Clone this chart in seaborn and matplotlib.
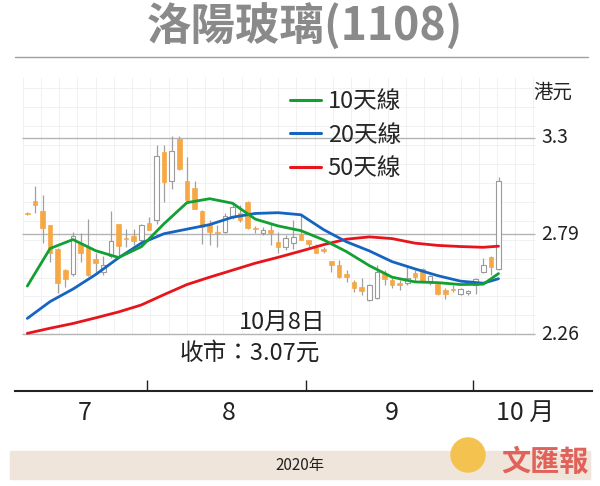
import seaborn as sns
import matplotlib.pyplot as plt
import numpy as np
import pandas as pd
from matplotlib.lines import Line2D
from matplotlib.patches import Rectangle, Ellipse

# daily candles, Jul - 8 Oct 2020 (HKD)
opens = [2.900, 2.964, 2.911, 2.837, 2.709, 2.600, 2.579, 2.744, 2.719, 2.657,
         2.590, 2.673, 2.842, 2.770, 2.779, 2.756, 2.849, 2.862, 3.222, 3.068,
         3.295, 3.072, 3.032, 2.911, 2.841, 2.802, 2.802, 2.884, 2.899, 2.960,
         2.823, 2.796, 2.814, 2.750, 2.722, 2.744, 2.789, 2.758, 2.717, 2.709,
         2.647, 2.626, 2.578, 2.538, 2.508, 2.441, 2.450, 2.582, 2.547, 2.529,
         2.532, 2.585, 2.605, 2.543, 2.524, 2.494, 2.497, 2.471, 2.476, 2.520,
         2.587, 2.670, 2.603]
highs = [2.905, 3.044, 2.995, 2.840, 2.715, 2.605, 2.802, 2.798, 2.872, 2.688,
         2.673, 2.911, 2.845, 2.817, 2.817, 2.844, 2.879, 3.263, 3.263, 3.307,
         3.310, 3.200, 3.073, 2.915, 2.863, 2.837, 2.902, 2.951, 2.943, 2.965,
         2.832, 2.830, 2.848, 2.802, 2.784, 2.867, 2.890, 2.761, 2.740, 2.722,
         2.650, 2.652, 2.600, 2.547, 2.556, 2.525, 2.626, 2.600, 2.556, 2.547,
         2.626, 2.600, 2.610, 2.572, 2.538, 2.503, 2.520, 2.503, 2.494, 2.556,
         2.661, 2.672, 3.092]
lows = [2.890, 2.902, 2.744, 2.643, 2.479, 2.510, 2.569, 2.643, 2.570, 2.582,
        2.573, 2.664, 2.670, 2.721, 2.730, 2.738, 2.810, 2.844, 2.958, 3.029,
        3.130, 2.953, 2.920, 2.740, 2.732, 2.722, 2.793, 2.872, 2.854, 2.815,
        2.793, 2.784, 2.732, 2.689, 2.705, 2.710, 2.758, 2.722, 2.688, 2.688,
        2.590, 2.555, 2.538, 2.485, 2.467, 2.438, 2.448, 2.520, 2.503, 2.494,
        2.520, 2.538, 2.535, 2.520, 2.467, 2.445, 2.483, 2.467, 2.467, 2.473,
        2.585, 2.573, 2.600]
closes = [2.895, 2.944, 2.823, 2.691, 2.529, 2.550, 2.779, 2.688, 2.573, 2.638,
          2.627, 2.752, 2.726, 2.765, 2.752, 2.839, 2.812, 3.205, 3.064, 3.231,
          3.136, 2.971, 2.923, 2.828, 2.802, 2.793, 2.884, 2.934, 2.863, 2.820,
          2.816, 2.814, 2.795, 2.722, 2.768, 2.772, 2.761, 2.740, 2.691, 2.701,
          2.629, 2.561, 2.561, 2.503, 2.490, 2.520, 2.590, 2.550, 2.520, 2.520,
          2.559, 2.561, 2.538, 2.568, 2.471, 2.471, 2.492, 2.497, 2.488, 2.550,
          2.629, 2.617, 3.070]

# moving averages read at every third trading day
ma_idx = [0, 3, 6, 9, 12, 15, 18, 21, 24, 27, 30, 33, 36, 39, 42, 45, 48, 51, 54, 57, 60, 62]
ma10 = [2.515, 2.714, 2.761, 2.702, 2.666, 2.723, 2.845, 2.956, 2.977, 2.953, 2.869,
        2.833, 2.808, 2.759, 2.697, 2.623, 2.562, 2.537, 2.533, 2.523, 2.525, 2.581]
ma20 = [2.344, 2.433, 2.499, 2.576, 2.664, 2.742, 2.792, 2.816, 2.840, 2.879, 2.899,
        2.903, 2.892, 2.813, 2.749, 2.701, 2.644, 2.606, 2.570, 2.541, 2.530, 2.554]
ma50 = [2.265, 2.292, 2.317, 2.347, 2.378, 2.415, 2.470, 2.523, 2.562, 2.599, 2.636,
        2.667, 2.700, 2.734, 2.763, 2.775, 2.766, 2.742, 2.730, 2.724, 2.720, 2.726]

price_ticks = [3.3, 2.79, 2.26]
month_start = [16, 37, 59]
month_labels = ['7', '8', '9', '10 月']
month_label_pos = [7.5, 26.5, 48.0, 65.5]

sns.set_theme(style='white')
plt.rcParams['font.family'] = ['Liberation Sans Narrow', 'Noto Sans CJK TC', 'DejaVu Sans']

df = pd.DataFrame({'o': opens, 'h': highs, 'l': lows, 'c': closes})
df['i'] = np.arange(len(df))
df['bot'] = df[['o', 'c']].min(axis=1)
df['ht'] = (df['c'] - df['o']).abs().clip(lower=0.005)
up = df['c'] >= df['o']

fig = plt.figure(figsize=(6, 4.86), dpi=100)
ax = fig.add_axes([15/600, 95/486, 577/600, 329/486])
ax.set_xlim(-1.62, 74.3)
ax.set_ylim(1.96, 3.70)

# faint background grid
ax.vlines(np.arange(-0.6, 67, 2.4), 2.26, 3.62, color='#efefef', lw=0.6, zorder=0)
ax.hlines(np.arange(2.26, 3.62, 0.1), -0.7, 66.8, color='#efefef', lw=0.6, zorder=0)
ax.hlines(price_ticks, -0.7, 66.8, color='#b4b4b4', lw=1, zorder=1)

# candles
ax.vlines(df['i'], df['l'], df['h'], color='#a0a0a0', lw=0.9, zorder=2)
ax.bar(df['i'][~up], df['ht'][~up], bottom=df['bot'][~up], width=0.62,
       color='#f5a845', edgecolor='#f5a845', lw=0.5, zorder=3)
ax.bar(df['i'][up], df['ht'][up], bottom=df['bot'][up], width=0.62,
       color='white', edgecolor='#9a9a9a', lw=0.8, zorder=3)

ma = pd.DataFrame({'i': ma_idx, 'ma10': ma10, 'ma20': ma20, 'ma50': ma50})
colors = {'ma50': '#e8141c', 'ma20': '#1565c0', 'ma10': '#13a032'}
for col in ['ma50', 'ma20', 'ma10']:
    sns.lineplot(data=ma, x='i', y=col, color=colors[col], lw=2, ax=ax, zorder=4)

for v in price_ticks:
    ax.text(67.6, v, f'{v:g}', ha='left', va='center', fontsize=14, color='#222222')

for s in ['top', 'left', 'right']:
    ax.spines[s].set_visible(False)
ax.spines['bottom'].set_color('#222222')
ax.spines['bottom'].set_linewidth(1.5)
ax.set_yticks([])
ax.set_xticks(np.array(month_start) - 0.3)
ax.tick_params(axis='x', direction='in', length=8, width=1, color='#222222',
               bottom=True, labelbottom=False)
ax.set_xlabel('')
ax.set_ylabel('')
for x, lab in zip(month_label_pos, month_labels):
    ax.text(x, -0.067, lab, transform=ax.get_xaxis_transform(), ha='center',
            va='center', fontsize=18, color='#222222')

handles = [Line2D([], [], color=colors[c], lw=2.2) for c in ['ma10', 'ma20', 'ma50']]
fig.legend(handles, ['10天線', '20天線', '50天線'], loc='upper left',
           bbox_to_anchor=(290/600, 1 - 90/486), frameon=False, fontsize=17,
           handlelength=1.3, handletextpad=0.3, labelspacing=0.45,
           borderpad=0, borderaxespad=0)

fig.text(282/600, 1 - 322/486, '10月8日', ha='center', va='center', fontsize=17, color='#222222')
fig.text(250/600, 1 - 353/486, '收市：3.07元', ha='center', va='center', fontsize=17, color='#222222')
fig.text(553/600, 1 - 92/486, '港元', ha='center', va='center', fontsize=14, color='#222222')

fig.text(305/600, 1 - 27/486, '洛陽玻璃(1108)', ha='center', va='center', fontsize=32,
         fontweight='heavy', color='#8a8a8a', family=['Noto Sans CJK TC', 'DejaVu Sans'])
fig.add_artist(Line2D([15/600, 588/600], [1 - 57/486, 1 - 57/486], color='#a0a0a0', lw=1))

fig.add_artist(Rectangle((10/600, 1 - 479/486), 580/600, 28/486, color='#efe5da',
                         transform=fig.transFigure, zorder=0))
fig.text(300/600, 1 - 465/486, '2020年', ha='center', va='center', fontsize=11, color='#222222')
fig.add_artist(Ellipse((468/600, 1 - 455/486), 34/600, 34/486, color='#f4c24e',
                       transform=fig.transFigure, zorder=1))
fig.text(545/600, 1 - 462/486, '文匯報', ha='center', va='center', fontsize=21,
         fontweight='bold', color='#e0625a', family=['Noto Sans CJK TC', 'DejaVu Sans'])

fig.savefig('out.png', dpi=100)
